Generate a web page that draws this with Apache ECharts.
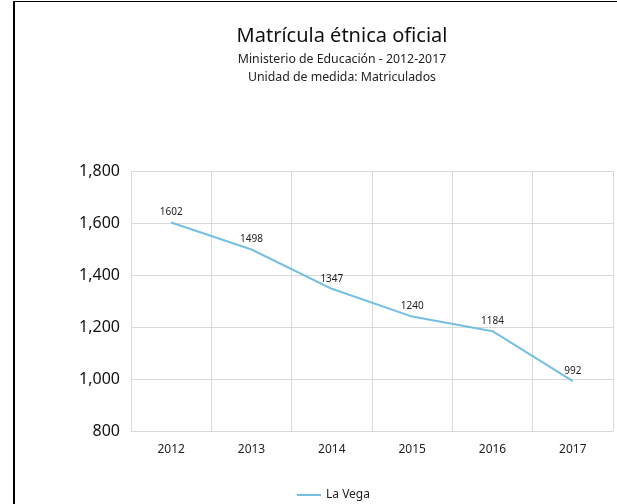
<!DOCTYPE html>
<html>
<head>
<meta charset="utf-8">
<script src="https://cdn.jsdelivr.net/npm/echarts@6/dist/echarts.min.js"></script>
<style>
html, body { margin: 0; padding: 0; background: #fff; overflow: hidden; }
#frame { position: absolute; left: 13px; top: 1px; width: 604px; height: 503px; border-left: 2px solid #000; border-top: 1px solid #000; box-sizing: border-box; pointer-events: none; z-index: 2; }
#chart { position: absolute; left: 0; top: 0; width: 617px; height: 504px; }
</style>
</head>
<body>
<div id="chart"></div>
<div id="frame"></div>
<script>
var years = ['2012', '2013', '2014', '2015', '2016', '2017'];
var laVega = [1602, 1498, 1347, 1240, 1184, 992];
var yTicks = { min: 800, max: 1800, step: 200 };

var FONT = 'Noto Sans';

//初始化图表
var chart = echarts.init(document.getElementById('chart'));
var option = {
    backgroundColor: '#fff',
    title: {
        text: 'Matrícula étnica oficial',
        subtext: 'Ministerio de Educación - 2012-2017\nUnidad de medida: Matriculados',
        left: 337,
        top: 21,
        textAlign: 'center',
        itemGap: 4,
        textStyle: { fontFamily: FONT, fontSize: 20, fontWeight: 'normal', color: '#111' },
        subtextStyle: { fontFamily: FONT, fontSize: 12.3, color: '#222', lineHeight: 18 }
    },
    legend: {
        left: 292,
        top: 484,
        data: ['La Vega'],
        icon: 'rect',
        itemWidth: 24,
        itemHeight: 2,
        itemGap: 10,
        textStyle: { fontFamily: FONT, fontSize: 12, color: '#222' }
    },
    grid: {
        left: 131,
        right: 4,
        top: 171,
        bottom: 73
    },
    xAxis: {
        type: 'category',
        data: years,
        boundaryGap: true,
        axisTick: { show: false },
        axisLine: { lineStyle: { color: '#d9d9d9' } },
        axisLabel: { margin: 13, fontFamily: FONT, fontSize: 12, color: '#222' },
        splitLine: { show: true, lineStyle: { color: '#d9d9d9' } }
    },
    yAxis: {
        type: 'value',
        min: yTicks.min,
        max: yTicks.max,
        interval: yTicks.step,
        axisLine: { show: false },
        axisTick: { show: false },
        axisLabel: {
            margin: 11,
            fontFamily: FONT,
            fontSize: 16,
            color: '#111',
            formatter: function (v) { return v.toLocaleString('en-US'); }
        },
        splitLine: { lineStyle: { color: '#d9d9d9' } }
    },
    series: [{
        name: 'La Vega',
        type: 'line',
        data: laVega,
        symbol: 'circle',
        symbolSize: 0,
        showSymbol: true,
        color: '#74bfe2',
        lineStyle: { width: 2, color: '#74bfe2' },
        label: {
            show: true,
            position: 'top',
            distance: 5,
            fontFamily: FONT,
            fontSize: 10,
            color: '#222'
        },
        animation: false
    }],
    animation: false
};
chart.setOption(option);
</script>
</body>
</html>
